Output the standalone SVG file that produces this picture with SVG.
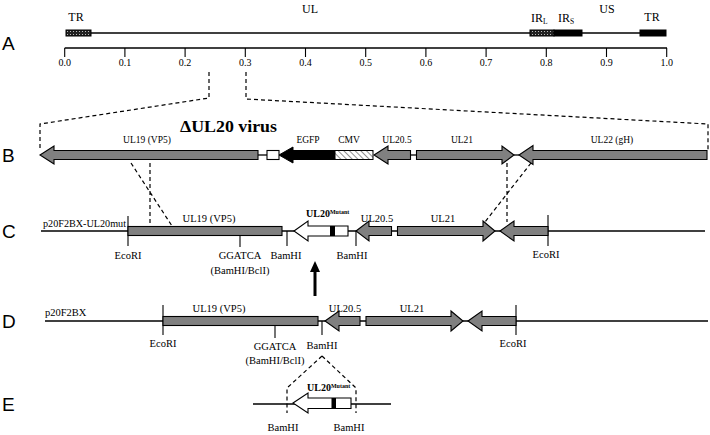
<svg xmlns="http://www.w3.org/2000/svg" width="710" height="435" viewBox="0 0 710 435">
<style>
text{font-family:"Liberation Serif","Times New Roman",serif;fill:#000}
.pl{font-family:"Liberation Sans",Arial,sans-serif;font-size:19px}
.t11{font-size:12px}
.ax{font-size:10px}
.b9{font-size:9.5px}
.c10{font-size:10.5px}
.mid{text-anchor:middle}
.ln{stroke:#000;stroke-width:1.3;fill:none}
.tick{stroke:#000;stroke-width:1.1;fill:none}
.dash{stroke:#000;stroke-width:1.2;fill:none;stroke-dasharray:4 3}
.gr{fill:#808080;stroke:#000;stroke-width:1.1}
.wh{fill:#fff;stroke:#000;stroke-width:1.1}
.bk{fill:#000;stroke:#000;stroke-width:1}
.bold{font-weight:bold}
</style>
<defs>
<pattern id="stip" width="3" height="3" patternUnits="userSpaceOnUse"><rect width="3" height="3" fill="#222"/><rect x="1" y="1" width="1" height="1" fill="#bbb"/></pattern>
<pattern id="hatch" width="4" height="4" patternUnits="userSpaceOnUse" patternTransform="rotate(-45)"><rect width="4" height="4" fill="#fff"/><line x1="0" y1="0" x2="0" y2="4" stroke="#777" stroke-width="1.6"/></pattern>
</defs>
<rect width="710" height="435" fill="#fff"/>

<!-- panel letters -->
<text class="pl" x="2" y="50">A</text>
<text class="pl" x="2" y="162">B</text>
<text class="pl" x="2" y="238">C</text>
<text class="pl" x="2" y="328">D</text>
<text class="pl" x="2" y="411">E</text>

<!-- Panel A -->
<g id="genome">
<line class="ln" x1="66" y1="33" x2="666" y2="33"/>
<rect x="66" y="30" width="25" height="6" fill="url(#stip)" stroke="#000" stroke-width="1"/>
<rect x="530" y="30" width="24" height="6" fill="url(#stip)" stroke="#000" stroke-width="1"/>
<rect x="554" y="30" width="28" height="6" class="bk"/>
<rect x="640" y="30" width="26" height="6" class="bk"/>
<text class="t11 mid" x="76" y="21">TR</text>
<text class="t11 mid" x="310" y="12.5">UL</text>
<text class="t11" x="531" y="22">IR<tspan font-size="7.5" dy="2">L</tspan></text>
<text class="t11" x="558" y="22">IR<tspan font-size="7.5" dy="2">S</tspan></text>
<text class="t11 mid" x="607" y="12.5">US</text>
<text class="t11 mid" x="652" y="21">TR</text>
</g>
<g id="axis">
<line class="ln" x1="64.7" y1="48" x2="667" y2="48"/>
<path class="tick" d="M64.7,48V57M124.9,48V57M185.1,48V57M245.3,48V57M305.5,48V57M365.7,48V57M425.9,48V57M486.1,48V57M546.3,48V57M606.5,48V57M666.7,48V57"/>
<text class="ax mid" x="64.7" y="66">0.0</text>
<text class="ax mid" x="124.9" y="66">0.1</text>
<text class="ax mid" x="185.1" y="66">0.2</text>
<text class="ax mid" x="245.3" y="66">0.3</text>
<text class="ax mid" x="305.5" y="66">0.4</text>
<text class="ax mid" x="365.7" y="66">0.5</text>
<text class="ax mid" x="425.9" y="66">0.6</text>
<text class="ax mid" x="486.1" y="66">0.7</text>
<text class="ax mid" x="546.3" y="66">0.8</text>
<text class="ax mid" x="606.5" y="66">0.9</text>
<text class="ax mid" x="666.7" y="66">1.0</text>
</g>

<!-- connectors -->
<g id="connectors">
<path class="dash" d="M209,72V98L40,124V150"/>
<path class="dash" d="M246,72V99L708,124V150"/>
<path class="dash" d="M131,163L172,226M150,163V226"/>
<path class="dash" d="M531,163L485,222M507,163V222"/>
<path class="dash" d="M322,356L287,388V413M322,356L356,388V413"/>
<line x1="315" y1="296" x2="315" y2="270" stroke="#000" stroke-width="3"/>
<path d="M315,261L320,272L310,272Z" fill="#000"/>
</g>

<!-- Panel B -->
<g id="B-virus">
<text class="bold" x="180" y="132" font-size="17" textLength="97" lengthAdjust="spacingAndGlyphs">ΔUL20 virus</text>
<line class="ln" x1="258" y1="155" x2="267" y2="155"/>
<line class="ln" x1="410" y1="155" x2="417" y2="155"/>
<line class="ln" x1="514" y1="155" x2="519" y2="155"/>
</g>
<g id="B-UL19"><path class="gr" d="M40,155L54,146V150.5H258V159.5H54V164Z"/><text class="b9 mid" x="147" y="143">UL19 (VP5)</text></g>
<g id="B-box"><rect class="wh" x="267" y="150.5" width="12" height="9"/></g>
<g id="B-EGFP"><path class="bk" d="M279,155L293,147V150.5H335V159.5H293V163Z"/><text class="b9 mid" x="308" y="143">EGFP</text></g>
<g id="B-CMV"><rect x="335" y="150.5" width="38" height="9" fill="url(#hatch)" stroke="#000" stroke-width="1"/><text class="b9 mid" x="349" y="143">CMV</text></g>
<g id="B-UL205"><path class="gr" d="M374,155L388,146V150.5H410.5V159.5H388V164Z"/><text class="b9 mid" x="397" y="143">UL20.5</text></g>
<g id="B-UL21"><path class="gr" d="M416.5,150.5H502V146L514,155L502,164V159.5H416.5Z"/><text class="b9 mid" x="462" y="143">UL21</text></g>
<g id="B-UL22"><path class="gr" d="M519,155L533,145.5V150.5H707V159.5H533V164.5Z"/><text class="b9 mid" x="612" y="143">UL22 (gH)</text></g>

<!-- Panel C -->
<g id="C-plasmid">
<line class="ln" x1="41" y1="231" x2="705" y2="231"/>
<text class="c10" x="43" y="227" textLength="83" lengthAdjust="spacingAndGlyphs">p20F2BX-UL20mut</text>
<line class="tick" x1="128" y1="216" x2="128" y2="246"/>
<text class="c10 mid" x="128" y="259">EcoRI</text>
<line class="tick" x1="548" y1="215" x2="548" y2="246"/>
<text class="c10 mid" x="546" y="258">EcoRI</text>
</g>
<g id="C-UL19"><rect class="gr" x="128" y="226.5" width="154" height="9"/><text class="c10 mid" x="209" y="222">UL19 (VP5)</text>
<line class="tick" x1="240" y1="235.5" x2="240" y2="247"/>
<text class="c10 mid" x="240" y="259">GGATCA</text><text class="c10 mid" x="240" y="274">(BamHI/BclI)</text></g>
<g id="C-BamHI1"><line class="tick" x1="287" y1="231" x2="287" y2="246"/><text class="c10 mid" x="286" y="259">BamHI</text></g>
<g id="C-UL20mut"><path class="wh" d="M294,231L308,221V226H348V236H308V241Z"/><rect x="330" y="226" width="5" height="10" fill="#000"/>
<text class="bold" x="306" y="217" font-size="10">UL20<tspan font-size="6" dy="-3.5">Mutant</tspan></text></g>
<g id="C-BamHI2"><line class="tick" x1="356" y1="231" x2="356" y2="246"/><text class="c10 mid" x="352" y="259">BamHI</text></g>
<g id="C-UL205"><path class="gr" d="M356,231L369,221V226.5H391.5V235.5H369V241Z"/><text class="c10 mid" x="377" y="222">UL20.5</text></g>
<g id="C-UL21"><path class="gr" d="M397.5,226.5H483V221L495,231L483,241V235.5H397.5Z"/><text class="c10 mid" x="443" y="222">UL21</text></g>
<g id="C-UL22p"><path class="gr" d="M500,231L514,221V226.5H548V235.5H514V241Z"/></g>

<!-- Panel D -->
<g id="D-plasmid">
<line class="ln" x1="45" y1="321" x2="708" y2="321"/>
<text class="c10" x="45" y="316">p20F2BX</text>
<line class="tick" x1="163" y1="305" x2="163" y2="335"/>
<text class="c10 mid" x="163" y="347">EcoRI</text>
<line class="tick" x1="516" y1="305" x2="516" y2="335"/>
<text class="c10 mid" x="513" y="347">EcoRI</text>
</g>
<g id="D-UL19"><rect class="gr" x="163" y="316.5" width="155" height="9"/><text class="c10 mid" x="219" y="312">UL19 (VP5)</text>
<line class="tick" x1="275" y1="325.5" x2="275" y2="338"/>
<text class="c10 mid" x="275" y="350">GGATCA</text><text class="c10 mid" x="275" y="364">(BamHI/BclI)</text></g>
<g id="D-BamHI"><line class="tick" x1="322" y1="321" x2="322" y2="335"/><text class="c10 mid" x="322" y="349">BamHI</text></g>
<g id="D-UL205"><path class="gr" d="M325,321L339,311V316.5H360V325.5H339V331Z"/><text class="c10 mid" x="345" y="312">UL20.5</text></g>
<g id="D-UL21"><path class="gr" d="M366,316.5H451V311L463,321L451,331V325.5H366Z"/><text class="c10 mid" x="412" y="312">UL21</text></g>
<g id="D-UL22p"><path class="gr" d="M468,321L482,311V316.5H516V325.5H482V331Z"/></g>

<!-- Panel E -->
<g id="E-insert">
<line class="ln" x1="253" y1="404" x2="391" y2="404"/>
<path class="wh" d="M293,403L308,393V398H351V408.5H308V413Z"/><rect x="331.5" y="398" width="4.5" height="10.5" fill="#000"/>
<text class="bold" x="307" y="391" font-size="10">UL20<tspan font-size="6" dy="-3.5">Mutant</tspan></text>
<text class="c10 mid" x="283" y="431">BamHI</text>
<text class="c10 mid" x="349" y="431">BamHI</text>
</g>
</svg>
